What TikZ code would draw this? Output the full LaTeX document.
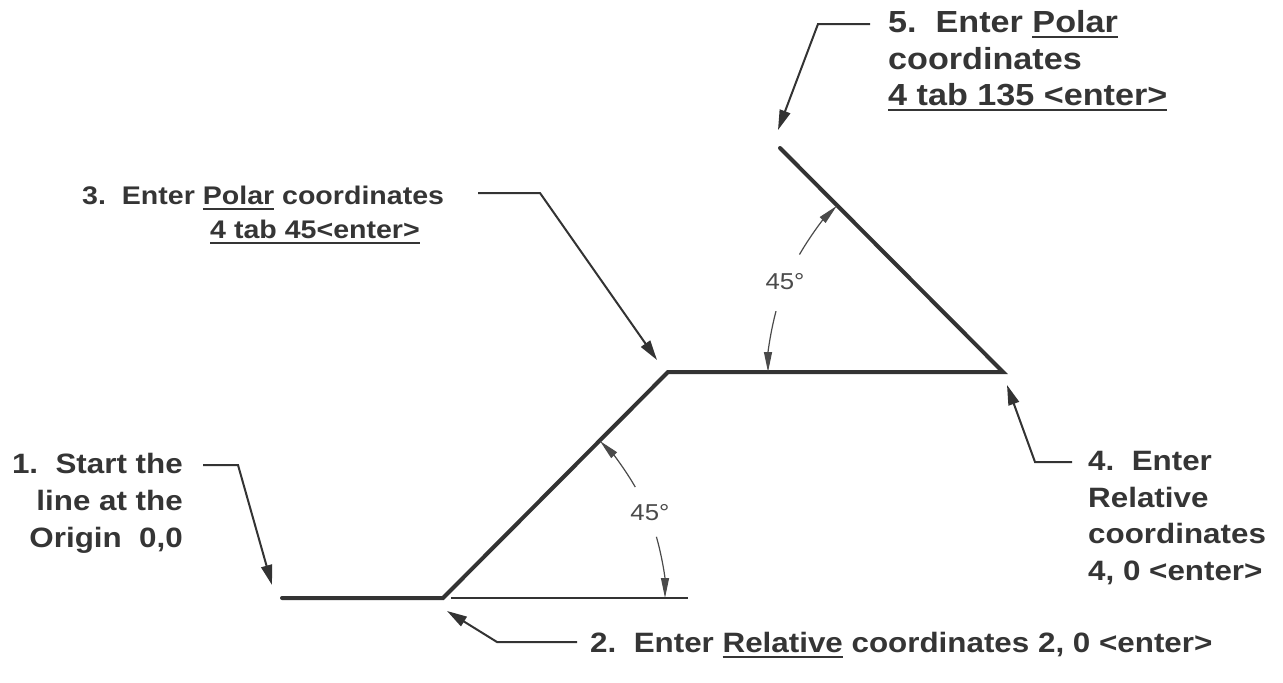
\documentclass[tikz,border=0pt]{standalone}
\usepackage{fontspec}
\setmainfont{Liberation Sans}[FakeStretch=1.12]
\usetikzlibrary{arrows.meta}
\definecolor{ink}{HTML}{333333}
\definecolor{txt}{HTML}{353535}
\definecolor{dimc}{HTML}{4A4A4A}
\newcommand{\myul}[1]{\leavevmode\setbox0\hbox{#1}\rlap{\rule[-6pt]{\wd0}{2pt}}\box0\relax}
\begin{document}
\begin{tikzpicture}[x=1pt,y=-1pt,
  lbl/.style={font=\fontsize{28}{36}\selectfont\bfseries, text=txt, inner sep=0pt},
  lblsmall/.style={font=\fontsize{25.5}{33}\selectfont\bfseries, text=txt, inner sep=0pt},
  lblbig/.style={font=\fontsize{30.5}{36}\selectfont\bfseries, text=txt, inner sep=0pt},
  angtxt/.style={font=\fontsize{23}{26}\selectfont, text=dimc, inner sep=0pt},
  shapeline/.style={draw=ink, line width=4pt, line cap=round, line join=miter},
  leader/.style={draw=ink, line width=2pt, -{Triangle[length=20pt,width=11pt]}},
  dimline/.style={draw=dimc, line width=1.2pt},
  dimtip/.style={-{Triangle[length=20pt,width=8pt]}}
]
\path[use as bounding box] (0,0) rectangle (1283,683);

% main shape
\coordinate (O) at (282,598);
\coordinate (A) at (443,598);
\coordinate (B) at (668,372);
\coordinate (C) at (1003,372);
\coordinate (D) at (780,148);
\draw[shapeline] (O) -- (A) -- (B) -- (C) -- (D);
\coordinate (R1) at (451,598);
\coordinate (R2) at (688,598);
\draw[draw=ink, line width=1.5pt] (R1) -- (R2);

% lower 45 degree
\draw[dimline,dimtip] (A) ++(-30:222) arc[start angle=-30,end angle=-45,radius=222];
\draw[dimline,dimtip] (A) ++(-16:222) arc[start angle=-16,end angle=0,radius=222];
\path (A) ++(-22.5:224) node[angtxt] (ang1) {45°};

% upper 45 degree
\draw[dimline,dimtip] (C) ++(195:235) arc[start angle=195,end angle=180,radius=235];
\draw[dimline,dimtip] (C) ++(210:235) arc[start angle=210,end angle=225,radius=235];
\path (C) ++(202.5:236) node[angtxt] (ang2) {45°};

% label 1
\node[lbl,anchor=base east] (l1a) at (183,473) {1.~~Start the};
\node[lbl,anchor=base east] (l1b) at (183,510) {line at the};
\node[lbl,anchor=base east] (l1c) at (183,547) {Origin~~0,0};
\coordinate (k1a) at (203,465);
\coordinate (k1b) at (238,465);
\coordinate (t1) at (272,585);
\draw[leader] (k1a) -- (k1b) -- (t1);

% label 2
\node[lbl,anchor=base west] (l2) at (590,652) {2.~~Enter \myul{Relative} coordinates 2, 0 <enter>};
\coordinate (k2a) at (577,642);
\coordinate (k2b) at (497,642);
\coordinate (t2) at (447,611);
\draw[leader] (k2a) -- (k2b) -- (t2);

% label 3
\node[lblsmall,anchor=base west] (l3a) at (82,204) {3.~~Enter \myul{Polar} coordinates};
\node[lblsmall,anchor=base east] (l3b) at (420,238) {\myul{4 tab 45<enter>}};
\coordinate (k3a) at (478,193);
\coordinate (k3b) at (540,193);
\coordinate (t3) at (657,360);
\draw[leader] (k3a) -- (k3b) -- (t3);

% label 4
\node[lbl,anchor=base west] (l4a) at (1088,470) {4.~~Enter};
\node[lbl,anchor=base west] (l4b) at (1088,507) {Relative};
\node[lbl,anchor=base west] (l4c) at (1088,543) {coordinates};
\node[lbl,anchor=base west] (l4d) at (1088,580) {4, 0 <enter>};
\coordinate (k4a) at (1072,462);
\coordinate (k4b) at (1035,462);
\coordinate (t4) at (1007,385);
\draw[leader] (k4a) -- (k4b) -- (t4);

% label 5
\node[lblbig,anchor=base west] (l5a) at (888,32) {5.~~Enter \myul{Polar}};
\node[lblbig,anchor=base west] (l5b) at (888,69) {coordinates};
\node[lblbig,anchor=base west] (l5c) at (888,105) {\myul{4 tab 135 <enter>}};
\coordinate (k5a) at (870,24);
\coordinate (k5b) at (818,24);
\coordinate (t5) at (778,130);
\draw[leader] (k5a) -- (k5b) -- (t5);
\end{tikzpicture}
\end{document}
